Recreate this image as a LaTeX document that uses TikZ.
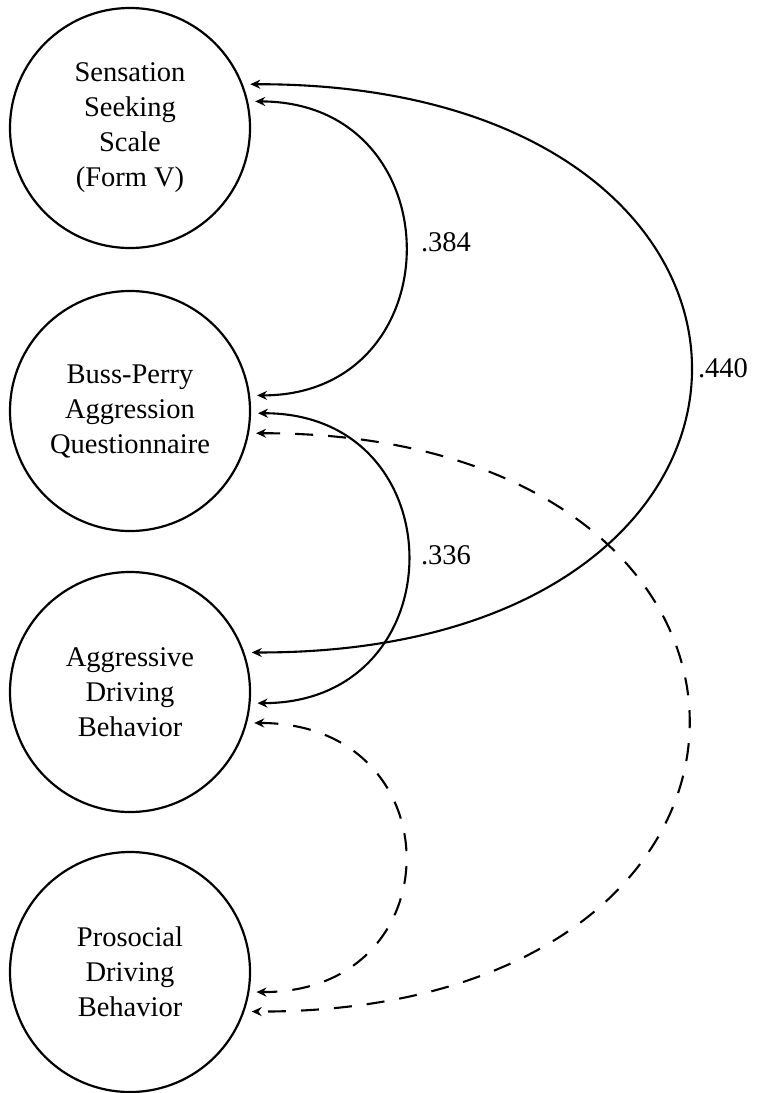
\documentclass[tikz,border=0pt]{standalone}
\usepackage{fontspec}
\setmainfont{Liberation Serif}
\usetikzlibrary{arrows.meta}
\tikzset{
  var/.style={circle, draw, line width=2.2pt, minimum size=240pt, inner sep=0pt, outer sep=8pt,
    align=center, font=\fontsize{28.5}{35}\selectfont},
  cov/.style={line width=2.1pt, {Stealth[length=10pt,width=9pt]}-{Stealth[length=10pt,width=9pt]}},
  dcov/.style={cov, dash pattern=on 18pt off 15pt},
  lab/.style={font=\fontsize{28.5}{35}\selectfont}
}
\begin{document}
\begin{tikzpicture}[x=1pt,y=-1pt]
\useasboundingbox (0,0) rectangle (759,1093);
\node[var] (c1) at (130,128) {Sensation\\Seeking\\Scale\\(Form V)};
\node[var] (c2) at (130,411) {Buss-Perry\\Aggression\\Questionnaire};
\node[var] (c3) at (130,692) {Aggressive\\Driving\\Behavior};
\node[var] (c4) at (130,972) {Prosocial\\Driving\\Behavior};
% .440
\draw[cov] (c1.20) .. controls (837,83) and (837,654) .. (c3.18);
% .384
\draw[cov] (c1.12) .. controls (455,102) and (455,395) .. (c2.7);
% .336
\draw[cov] (c2.-1) .. controls (458,413) and (458,703) .. (c3.-5);
% dashed
\draw[dcov] (c2.-10) .. controls (833,433) and (833,1013) .. (c4.-18);
\draw[dcov] (c3.-14) .. controls (455,723) and (455,993) .. (c4.-9);
\node[lab] (l1) at (446,242) {.384};
\node[lab] (l2) at (723,368) {.440};
\node[lab] (l3) at (446,555) {.336};
\end{tikzpicture}
\end{document}
